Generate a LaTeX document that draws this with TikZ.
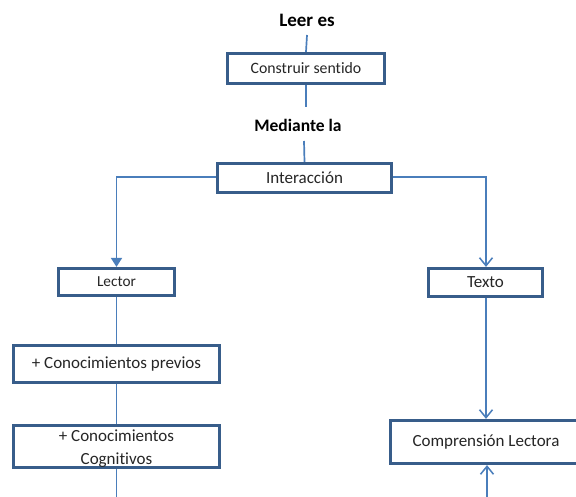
\documentclass[tikz,border=0pt]{standalone}
\usepackage{fontspec}
\setmainfont[Ligatures={NoCommon}]{Carlito}
\usetikzlibrary{arrows.meta}
\definecolor{boxblue}{HTML}{385D8A}
\definecolor{lineblue}{HTML}{4A7EBB}
\definecolor{txt}{HTML}{262626}
\tikzset{
  box/.style={draw=boxblue, line width=3.2pt, fill=white, text=txt, inner sep=0pt, align=center, font=\fontsize{17}{21}\selectfont},
  conn/.style={draw=lineblue, line width=1.7pt},
  head/.style={font=\fontsize{19}{22}\selectfont\bfseries, text=black, inner sep=0pt},
  openarrow/.style={-{Straight Barb[length=8pt,width=13pt,line width=1.5pt]}},
  fillarrow/.style={-{Triangle[length=9pt,width=11pt]}}
}
\begin{document}
\begin{tikzpicture}[x=1pt,y=-1pt]
\clip (0,0) rectangle (576,497);
\fill[white] (0,0) rectangle (576,497);
% headings
\node[head] (leer) at (307,20) {Leer es};
\node[head, font=\fontsize{17.5}{21}\selectfont\bfseries] (mediante) at (298,125) {Mediante la};
% boxes
\node[box, minimum width=157pt, minimum height=30pt, font=\fontsize{15.8}{19}\selectfont] (construir) at (306,68.5) {Construir sentido};
\node[box, minimum width=174pt, minimum height=29pt] (interaccion) at (304.5,178) {Interacción};
\node[box, minimum width=116pt, minimum height=27pt, font=\fontsize{15.3}{19}\selectfont] (lector) at (116.5,282) {Lector};
\node[box, minimum width=114pt, minimum height=28pt] (texto) at (485.5,282.5) {Texto};
\node[box, minimum width=206pt, minimum height=37pt] (previos) at (116.5,364) {+ Conocimientos previos};
\node[box, minimum width=206pt, minimum height=42pt] (cognitivos) at (116.5,446.5) {};
\node[text=txt, inner sep=0pt, align=center, font=\fontsize{17}{23}\selectfont] (cogtext) at (116.5,449) {+ Conocimientos\\Cognitivos};
\node[box, minimum width=192pt, minimum height=43pt] (comprension) at (486.5,442) {};
\node[text=txt, inner sep=0pt, font=\fontsize{17}{21}\selectfont] (comptext) at (486,442) {Comprensión Lectora};
% free ends
\coordinate (c1) at (307,35);
\coordinate (c2) at (306,107);
\coordinate (c3) at (304,141);
\coordinate (c4) at (116.5,497);
\coordinate (c5) at (487,497);
\coordinate (c6) at (116.5,177);
\coordinate (c7) at (486,177);
% connectors
\draw[conn] (c1) -- (construir.north);
\draw[conn] (construir.south) -- (c2);
\draw[conn] (c3) -- (interaccion.north);
\draw[conn, fillarrow] (interaccion.west |- c6) -- (c6) -- (lector.north);
\draw[conn, openarrow] (interaccion.east |- c7) -- (c7) -- (c7 |- texto.north);
\draw[conn] (lector.south) -- (previos.north);
\draw[conn] (previos.south) -- (cognitivos.north);
\draw[conn] (cognitivos.south) -- (c4);
\draw[conn, openarrow] (c7 |- texto.south) -- (c7 |- comprension.north);
\draw[conn, openarrow] (c5) -- (c5 |- comprension.south);
\end{tikzpicture}
\end{document}
